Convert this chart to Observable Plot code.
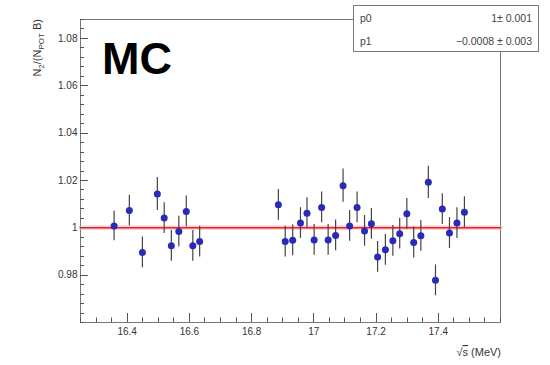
<!DOCTYPE html>
<html>
<head>
<meta charset="utf-8">
<script src="https://cdn.jsdelivr.net/npm/d3@7"></script>
<script src="https://cdn.jsdelivr.net/npm/@observablehq/plot@0.6"></script>
<style>
  html, body { margin: 0; padding: 0; background: #fff; }
  #wrap { position: relative; width: 550px; height: 365px; font-family: "Liberation Sans", Arial, sans-serif; }
  #wrap svg { position: absolute; left: 0; top: 0; }
  .mc { position: absolute; left: 102px; top: 36px; font-size: 45px; font-weight: bold; color: #000; line-height: 1; }
  .stats { position: absolute; left: 353px; top: 5px; width: 186px; height: 47px; background: #fff; border: 1px solid #777; box-sizing: border-box; font-size: 10.5px; color: #444; }
  .stats .row { position: absolute; left: 6px; right: 6px; height: 14px; }
  .stats .row span.n { position: absolute; left: 0; }
  .stats .row span.v { position: absolute; right: 0; }
</style>
</head>
<body>
<div id="wrap"></div>
<script>
// Data
const sqrtS = [16.358,16.407,16.449,16.497,16.519,16.542,16.566,16.590,16.611,16.633,
               16.886,16.908,16.932,16.957,16.978,17.001,17.025,17.046,17.070,17.094,
               17.115,17.139,17.163,17.185,17.205,17.230,17.254,17.276,17.299,17.321,
               17.344,17.368,17.391,17.413,17.436,17.460,17.484];
const ratio = [1.0008,1.0073,0.9896,1.0143,1.0041,0.9924,0.9984,1.0069,0.9924,0.9942,
               1.0097,0.9942,0.9947,1.0020,1.0062,0.9949,1.0086,0.9949,0.9968,1.0178,
               1.0008,1.0086,0.9987,1.0017,0.9877,0.9907,0.9945,0.9975,1.0059,0.9938,
               0.9966,1.0192,0.9778,1.0079,0.9978,1.0020,1.0066];
const ratioErr = [0.0063,0.0065,0.0065,0.0070,0.0065,0.0065,0.0065,0.0065,0.0065,0.0065,
                  0.0065,0.0065,0.0065,0.0065,0.0065,0.0065,0.0065,0.0065,0.0065,0.0070,
                  0.0065,0.0065,0.0065,0.0065,0.0065,0.0065,0.0065,0.0065,0.0065,0.0065,
                  0.0065,0.0068,0.0065,0.0065,0.0065,0.0065,0.0065];
const fitX = [16.25, 17.6];
const fitY = [1.0, 1.0];
const xMajor = [16.4, 16.6, 16.8, 17.0, 17.2, 17.4];
const xMajorLabels = ["16.4", "16.6", "16.8", "17", "17.2", "17.4"];
const yMajor = [0.98, 1.0, 1.02, 1.04, 1.06, 1.08];
const yMajorLabels = ["0.98", "1", "1.02", "1.04", "1.06", "1.08"];
const xDomain = [16.25, 17.6];
const yDomain = [0.96, 1.088];
const statNames = ["p0", "p1"];
const statValues = ["1\u00b1 0.001", "\u22120.0008 \u00b1 0.003"];

const points = sqrtS.map((x, i) => ({x, y: ratio[i], e: ratioErr[i]}));
const fit = fitX.map((x, i) => ({x, y: fitY[i]}));

// minor ticks
const xMinor = d3.range(Math.round(16.25 / 0.05), Math.round(17.6 / 0.05) + 1).map(k => +(k * 0.05).toFixed(3))
  .filter(v => v >= xDomain[0] && v <= xDomain[1] && !xMajor.some(m => Math.abs(m - v) < 1e-6));
const yMinor = d3.range(Math.round(0.96 / 0.004), Math.round(1.088 / 0.004) + 1).map(k => +(k * 0.004).toFixed(4))
  .filter(v => v >= yDomain[0] && v <= yDomain[1] && !yMajor.some(m => Math.abs(m - v) < 1e-6));

const fmtX = d => xMajorLabels[xMajor.findIndex(m => Math.abs(m - d) < 1e-9)];
const fmtY = d => yMajorLabels[yMajor.findIndex(m => Math.abs(m - d) < 1e-9)];

const chart = Plot.plot({
  width: 550,
  height: 365,
  marginLeft: 80,
  marginRight: 50,
  marginTop: 19,
  marginBottom: 43,
  style: {fontFamily: "'Liberation Sans', Arial, sans-serif", fontSize: "10px", color: "#333", background: "white"},
  x: {domain: xDomain},
  y: {domain: yDomain},
  marks: [
    Plot.frame({stroke: "#777"}),
    Plot.axisX({ticks: xMajor, tickSize: 0, tickPadding: 5, tickFormat: fmtX, fill: "#333", fontSize: 10, label: null}),
    Plot.axisY({ticks: yMajor, tickSize: 0, tickPadding: 3, tickFormat: fmtY, fill: "#333", fontSize: 10, label: null}),
    // fit line
    Plot.line(fit, {x: "x", y: "y", stroke: "#f6b0b6", strokeWidth: 4.5, strokeOpacity: 0.6}),
    Plot.line(fit, {x: "x", y: "y", stroke: "#e8202a", strokeWidth: 1.6}),
    // error bars
    Plot.ruleX(points, {x: "x", y1: d => d.y - d.e, y2: d => d.y + d.e, stroke: "#444", strokeWidth: 1.2}),
    // markers
    Plot.dot(points, {x: "x", y: "y", r: 3.5, fill: "#2a2ab8", stroke: "none"})
  ]
});

const wrap = document.getElementById("wrap");
wrap.appendChild(chart);

// inward ticks drawn with the chart's own scales
const sx = chart.scale("x"), sy = chart.scale("y");
const svg = d3.select(chart);
const [, yBottom] = [0, sy.apply(yDomain[0])];
const xLeft = sx.apply(xDomain[0]);
const tg = svg.append("g").attr("stroke", "#555").attr("stroke-width", 1);
xMajor.forEach(v => { const px = Math.round(sx.apply(v)) + 0.5;
  tg.append("line").attr("x1", px).attr("x2", px).attr("y1", yBottom).attr("y2", yBottom - 9); });
xMinor.forEach(v => { const px = Math.round(sx.apply(v)) + 0.5;
  tg.append("line").attr("x1", px).attr("x2", px).attr("y1", yBottom).attr("y2", yBottom - 4.5); });
yMajor.forEach(v => { const py = Math.round(sy.apply(v)) + 0.5;
  tg.append("line").attr("y1", py).attr("y2", py).attr("x1", xLeft).attr("x2", xLeft + 8); });
yMinor.forEach(v => { const py = Math.round(sy.apply(v)) + 0.5;
  tg.append("line").attr("y1", py).attr("y2", py).attr("x1", xLeft).attr("x2", xLeft + 4); });

// axis titles as SVG text
const yl = svg.append("text")
  .attr("transform", "translate(41,19) rotate(-90)")
  .attr("text-anchor", "end")
  .attr("font-size", 11)
  .attr("fill", "#333")
  .attr("font-family", "'Liberation Sans', Arial, sans-serif");
yl.append("tspan").text("N");
yl.append("tspan").attr("font-size", 8).attr("dy", 3).text("2");
yl.append("tspan").attr("dy", -3).text("/(N");
yl.append("tspan").attr("font-size", 8).attr("dy", 3).text("POT");
yl.append("tspan").attr("dy", -3).text(" B)");

const xl = svg.append("text")
  .attr("x", 501).attr("y", 356)
  .attr("text-anchor", "end")
  .attr("font-size", 11)
  .attr("fill", "#333")
  .attr("font-family", "'Liberation Sans', Arial, sans-serif");
xl.append("tspan").text("\u221a");
xl.append("tspan").attr("text-decoration", "overline").text("s");
xl.append("tspan").text(" (MeV)");

// MC label
const mc = document.createElement("div");
mc.className = "mc";
mc.textContent = "MC";
wrap.appendChild(mc);

// stats box
const st = document.createElement("div");
st.className = "stats";
statNames.forEach((n, i) => {
  const row = document.createElement("div");
  row.className = "row";
  row.style.top = (6 + i * 23) + "px";
  row.innerHTML = `<span class="n">${n}</span><span class="v">${statValues[i]}</span>`;
  st.appendChild(row);
});
wrap.appendChild(st);
</script>
</body>
</html>
